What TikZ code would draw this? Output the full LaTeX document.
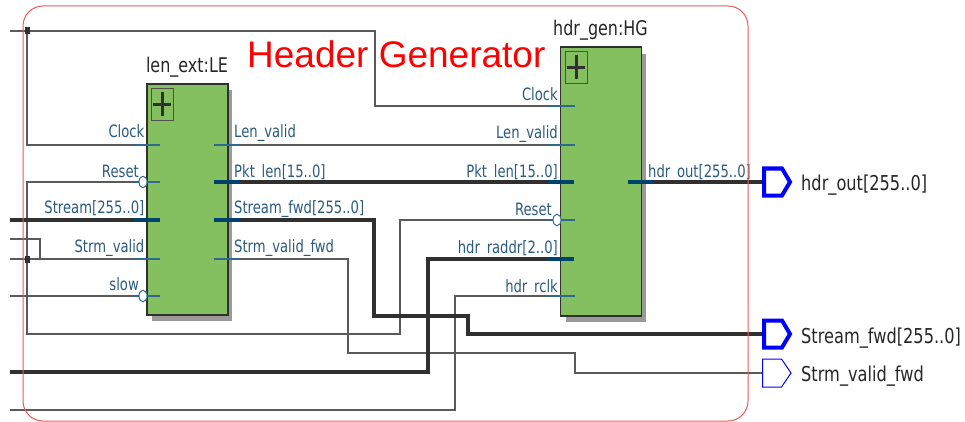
\documentclass[tikz,border=0pt]{standalone}
\usepackage{fontspec}
\usetikzlibrary{shapes.geometric}
\setmainfont[FakeStretch=0.79]{DejaVu Sans}
\newfontfamily\pinface[FakeStretch=0.775]{DejaVu Sans}
\newfontfamily\hdrfont{Liberation Sans}
\definecolor{wiregray}{HTML}{5A5A5A}
\definecolor{wiredark}{HTML}{303030}
\definecolor{stubthin}{HTML}{2F6A8E}
\definecolor{stubthick}{HTML}{00426E}
\definecolor{labelblue}{HTML}{2A5A80}
\definecolor{modgreen}{HTML}{85C060}
\definecolor{shadowgray}{HTML}{999999}
\definecolor{framered}{HTML}{E85A5A}
\tikzset{
  thinwire/.style={draw=wiregray,line width=1.3pt},
  thickwire/.style={draw=wiredark,line width=4pt},
  thinstub/.style={draw=stubthin,line width=1.3pt},
  thickstub/.style={draw=stubthick,line width=4pt},
  modbox/.style={draw=wiredark,line width=1.2pt,fill=modgreen,minimum width=81pt,inner sep=0pt},
  modshadow/.style={fill=shadowgray,draw=none,minimum width=80pt,inner sep=0pt},
  plusbox/.style={draw=wiredark!85!white,line width=1pt,minimum width=22pt,minimum height=32pt,inner sep=0pt},
  junction/.style={fill=wiredark,draw=none,minimum width=5pt,minimum height=7pt,inner sep=0pt},
  bubble/.style={ellipse,draw=stubthin,fill=white,line width=1pt,minimum width=8pt,minimum height=11.5pt,inner sep=0pt},
  pinl/.style={font=\pinface\fontsize{17}{20}\selectfont,text=labelblue,inner sep=0pt,anchor=base east},
  pinr/.style={font=\pinface\fontsize{17}{20}\selectfont,text=labelblue,inner sep=0pt,anchor=base west},
  title/.style={font=\fontsize{20.2}{24}\selectfont,text=black!85,inner sep=0pt,anchor=base},
  portlabel/.style={font=\fontsize{20.5}{24}\selectfont,text=black!85,inner sep=0pt,anchor=base west},
  busport/.style={draw=blue,line width=4pt,fill=white,miter limit=4},
  bitport/.style={draw=blue,line width=1pt,fill=white},
}
\begin{document}
\begin{tikzpicture}[x=1pt,y=-1pt]
\useasboundingbox (0,0) rectangle (965,422);
% free ends
\coordinate (inA) at (10,31);
\coordinate (inStream) at (10,220);
\coordinate (inB) at (10,239);
\coordinate (inC) at (10,259);
\coordinate (inSlow) at (10,296);
\coordinate (inBus) at (10,372);
\coordinate (inRclk) at (10,410);
% modules
\node[modshadow,minimum height=231pt] (leshadow) at (192,205.5) {};
\node[modshadow,minimum height=268pt] (hgshadow) at (605.5,188) {};
\node[modbox,minimum height=231pt] (le) at (187.5,199.5) {};
\node[modbox,minimum height=269pt] (hg) at (601,181.5) {};
\node[plusbox] (leplus) at (162.5,105) {};
\node[plusbox] (hgplus) at (576,68) {};
\draw[line width=3pt,draw=wiredark] (leplus.north) ++(0,4) -- ++(0,24) (leplus.west) ++(2,0) -- ++(18,0);
\draw[line width=3pt,draw=wiredark] (hgplus.north) ++(0,4) -- ++(0,24) (hgplus.west) ++(2,0) -- ++(18,0);
% pin start points
\coordinate (leClkS) at (134,145);   \coordinate (leClkE) at (160,145);
\coordinate (leRstS) at (134,182);   \coordinate (leRstE) at (160,182);
\coordinate (leStrS) at (134,220);   \coordinate (leStrE) at (160,220);
\coordinate (leValS) at (134,259);   \coordinate (leValE) at (160,259);
\coordinate (leSlwS) at (134,296);   \coordinate (leSlwE) at (160,296);
\coordinate (leLenS) at (214,145);   \coordinate (leLenE) at (240,145);
\coordinate (lePktS) at (214,182);   \coordinate (lePktE) at (240,182);
\coordinate (leFwdS) at (214,220);   \coordinate (leFwdE) at (240,220);
\coordinate (leVfdS) at (214,259);   \coordinate (leVfdE) at (240,259);
\coordinate (hgClkS) at (548,106);   \coordinate (hgClkE) at (575,106);
\coordinate (hgLenS) at (548,145);   \coordinate (hgLenE) at (575,145);
\coordinate (hgPktS) at (548,182);   \coordinate (hgPktE) at (574,182);
\coordinate (hgRstS) at (548,220);   \coordinate (hgRstE) at (575,220);
\coordinate (hgRadS) at (548,259);   \coordinate (hgRadE) at (574,259);
\coordinate (hgRckS) at (548,296);   \coordinate (hgRckE) at (575,296);
\coordinate (hgOutS) at (628,182);   \coordinate (hgOutE) at (654,182);
% port tips
\coordinate (pOut) at (762,182);
\coordinate (pFwd) at (762,334);
\coordinate (pVal) at (762,373);
% junctions
\coordinate (j1) at (27,31);
\coordinate (j2) at (27,259);
% wires
\draw[thinwire] (inA) -- (j1) -- (375,31) -- (375,106) -- (hgClkS);
\draw[thinwire] (j1) |- (leClkS);
\draw[thinwire] (leRstS) -| (j2) -- (27,334) -- (400,334) -- (400,220) -- (hgRstS);
\draw[thinwire] (inB) -- (40,239) -- (40,259) -- (leValS);
\draw[thinwire] (inC) -- (40,259);
\draw[thinwire] (inSlow) -- (leSlwS);
\draw[thinwire] (inRclk) -- (455,410) -- (455,296) -- (hgRckS);
\draw[thinwire] (leLenE) -- (hgLenS);
\draw[thinwire] (leVfdE) -- (348,259) -- (348,353) -- (575,353) -- (575,373) -- (pVal);
\draw[thickwire] (inStream) -- (leStrS);
\draw[thickwire] (lePktE) -- (hgPktS);
\draw[thickwire] (leFwdE) -- (374,220) -- (374,316) -- (468,316) -- (468,334) -- (pFwd);
\draw[thickwire] (inBus) -- (428,372) -- (428,259) -- (hgRadS);
\draw[thickwire] (hgOutE) -- (pOut);
% pin stubs
\foreach \a/\b in {leClkS/leClkE,leRstS/leRstE,leValS/leValE,leSlwS/leSlwE,leLenS/leLenE,leVfdS/leVfdE,hgClkS/hgClkE,hgLenS/hgLenE,hgRstS/hgRstE,hgRckS/hgRckE}
  \draw[thinstub] (\a) -- (\b);
\foreach \a/\b in {leStrS/leStrE,leFwdS/leFwdE,lePktS/lePktE,hgPktS/hgPktE,hgRadS/hgRadE,hgOutS/hgOutE}
  \draw[thickstub] (\a) -- (\b);
\node[junction] (jn1) at (j1) {};
\node[junction] (jn2) at (j2) {};
\node[bubble] (b1) at (143,182) {};
\node[bubble] (b2) at (143,296) {};
\node[bubble] (b3) at (557,220) {};
% ports
\draw[busport] (pOut) ++(2,-13.5) -- ++(18,0) -- ++(8,13.5) -- ++(-8,13.5) -- ++(-18,0) -- cycle;
\draw[busport] (pFwd) ++(2,-13.5) -- ++(18,0) -- ++(8,13.5) -- ++(-8,13.5) -- ++(-18,0) -- cycle;
\draw[bitport] (pVal) ++(0.5,-14) -- ++(19,0) -- ++(9.5,14) -- ++(-9.5,14) -- ++(-19,0) -- cycle;
% pin labels
\node[pinl] (l1) at (144.5,138) {Clock};
\node[pinl] (l2) at (139,177) {Reset};
\node[pinl] (l3) at (144.5,213) {Stream[255..0]};
\node[pinl] (l4) at (144.5,252) {Strm\_valid};
\node[pinl] (l5) at (139,290) {slow};
\node[pinr] (r1) at (234,138) {Len\_valid};
\node[pinr] (r2) at (234,177) {Pkt \hspace{.15em}len[15..0]};
\node[pinr] (r3) at (234,213) {Stream\_fwd[255..0]};
\node[pinr] (r4) at (234,252) {Strm\_valid\_fwd};
\node[pinl] (h1) at (558,101) {Clock};
\node[pinl] (h2) at (558,139) {Len\_valid};
\node[pinl] (h3) at (558,177) {Pkt \hspace{.15em}len[15..0]};
\node[pinl] (h4) at (552,215) {Reset};
\node[pinl] (h5) at (558,253) {hdr \hspace{.15em}raddr[2..0]};
\node[pinl] (h6) at (558,292) {hdr \hspace{.15em}rclk};
\node[pinr] (h7) at (648,177) {hdr \hspace{.15em}out[255..0]};
% titles
\node[title] (tle) at (187,73) {len\_ext:LE};
\node[title] (thg) at (600.5,36) {hdr\_gen:HG};
\node[portlabel] (pl1) at (801,190) {hdr\_out[255..0]};
\node[portlabel] (pl2) at (801,343) {Stream\_fwd[255..0]};
\node[portlabel] (pl3) at (801,381) {Strm\_valid\_fwd};
% frame
\node[draw=framered,line width=1pt,rounded corners=20pt,minimum width=725pt,minimum height=415pt,inner sep=0pt] (frame) at (385.5,213.5) {};
\node[font=\hdrfont\fontsize{37}{42}\selectfont,text=red,inner sep=0pt,anchor=base west] (head) at (247,68) {Header Generator};
\end{tikzpicture}
\end{document}
